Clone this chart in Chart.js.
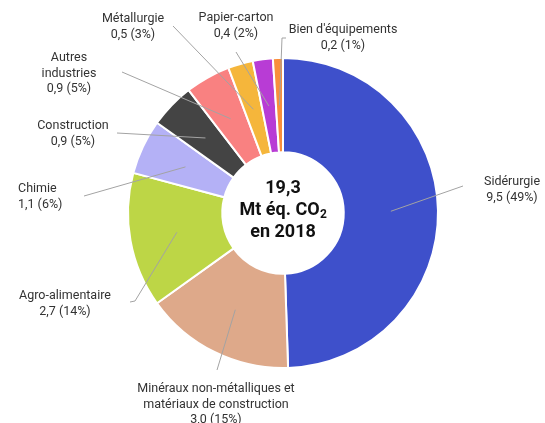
<!DOCTYPE html>
<html lang="fr">
<head>
<meta charset="utf-8">
<script src="https://cdn.jsdelivr.net/npm/chart.js@4.4.1/dist/chart.umd.min.js"></script>
<style>
    html, body { margin: 0; padding: 0; background: #ffffff; }
    #emissionsChart { display: block; }
</style>
</head>
<body>
<canvas id="emissionsChart" width="545" height="423"></canvas>
<script>
// Émissions de l'industrie par secteur (Mt éq. CO2, 2018) : donut avec étiquettes reliées par des traits

const SECTOR_NAMES = [
    ["Sidérurgie"],
    ["Minéraux non-métalliques et", "matériaux de construction"],
    ["Agro-alimentaire"],
    ["Chimie"],
    ["Construction"],
    ["Autres", "industries"],
    ["Métallurgie"],
    ["Papier-carton"],
    ["Bien d'équipements"]
];
const SECTOR_VALUES = [9.5, 3.0, 2.7, 1.1, 0.9, 0.9, 0.5, 0.4, 0.2];
const SECTOR_PERCENTS = [49, 15, 14, 6, 5, 5, 3, 2, 1];
const SECTOR_COLORS = ["#3E50CB", "#DEA98A", "#BDD646", "#B4B1F6", "#444444", "#F98181", "#F5B63B", "#B83CD5", "#F98E3B"];
const CENTER_TOTAL = "19,3";
const CENTER_YEAR = "en 2018";

// Position des étiquettes (texte + coude du trait côté texte), séparée des données
const LABEL_LAYOUT = [
    { x: 512, y: 182, align: "center", path: [[463, 186]] },
    { x: 216, y: 389, align: "center", path: [[217, 370]] },
    { x: 65, y: 296, align: "center", path: [[130, 302], [135, 301]] },
    { x: 18, y: 189, align: "left", path: [[84, 196]] },
    { x: 73, y: 126, align: "center", path: [[117, 133]] },
    { x: 69, y: 58, align: "center", path: [[122, 72]] },
    { x: 133, y: 19, align: "center", path: [[173, 26]] },
    { x: 236, y: 18, align: "center", path: [[236, 52]] },
    { x: 343, y: 30, align: "center", path: [[286, 38], [282, 38]] }
];
const LABEL_LINE_HEIGHT = 15.5;

function formatValueLine(value, percent) {
    return `${value.toFixed(1).replace(".", ",")} (${percent}%)`;
}

const leaderLabelsPlugin = {
    id: "leaderLabels",
    afterDraw(chart) {
        const ctx = chart.ctx;
        const arcs = chart.getDatasetMeta(0).data;
        ctx.save();

        // traits de rappel : du texte vers le milieu de chaque part
        ctx.strokeStyle = "#A3A3A3";
        ctx.lineWidth = 1;
        arcs.forEach((arc, index) => {
            const anchor = arc.tooltipPosition();
            const path = LABEL_LAYOUT[index].path;
            ctx.beginPath();
            ctx.moveTo(path[0][0], path[0][1]);
            path.slice(1).forEach((pt) => ctx.lineTo(pt[0], pt[1]));
            ctx.lineTo(anchor.x, anchor.y);
            ctx.stroke();
        });

        // textes des étiquettes
        ctx.fillStyle = "#333333";
        ctx.font = "12.5px Roboto";
        ctx.textBaseline = "middle";
        SECTOR_NAMES.forEach((nameLines, index) => {
            const layout = LABEL_LAYOUT[index];
            const lines = nameLines.concat([formatValueLine(SECTOR_VALUES[index], SECTOR_PERCENTS[index])]);
            ctx.textAlign = layout.align;
            lines.forEach((line, lineIndex) => {
                ctx.fillText(line, layout.x, layout.y + lineIndex * LABEL_LINE_HEIGHT);
            });
        });

        // texte central
        const cx = arcs[0].x;
        const cy = arcs[0].y;
        ctx.fillStyle = "#111111";
        ctx.textAlign = "center";
        ctx.font = "bold 18px Roboto";
        ctx.fillText(CENTER_TOTAL, cx, cy - 25);
        ctx.fillText(CENTER_YEAR, cx, cy + 19);

        const mainPart = "Mt éq. CO";
        const subPart = "2";
        const mainWidth = ctx.measureText(mainPart).width;
        ctx.font = "bold 12px Roboto";
        const subWidth = ctx.measureText(subPart).width;
        const startX = cx - (mainWidth + subWidth) / 2;
        ctx.textAlign = "left";
        ctx.font = "bold 18px Roboto";
        ctx.fillText(mainPart, startX, cy - 3);
        ctx.font = "bold 12px Roboto";
        ctx.fillText(subPart, startX + mainWidth + 0.5, cy + 2);

        ctx.restore();
    }
};

new Chart(document.getElementById("emissionsChart"), {
    type: "doughnut",
    data: {
        labels: SECTOR_NAMES.map((lines) => lines.join(" ")),
        datasets: [{
            data: SECTOR_VALUES,
            backgroundColor: SECTOR_COLORS,
            borderColor: "#ffffff",
            borderWidth: 2
        }]
    },
    options: {
        responsive: false,
        animation: false,
        radius: 155,
        cutout: 78,
        layout: { padding: { left: 31, right: 10, top: 13, bottom: 10 } },
        plugins: {
            legend: { display: false },
            tooltip: { enabled: false }
        }
    },
    plugins: [leaderLabelsPlugin]
});
</script>
</body>
</html>
